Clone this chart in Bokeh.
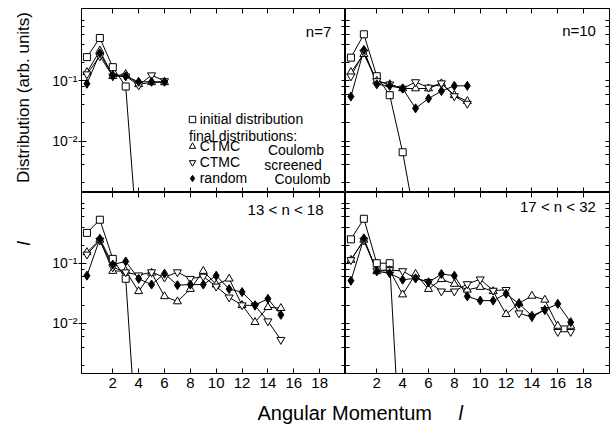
from bokeh.plotting import figure
from bokeh.layouts import row, column
from bokeh.models import (Range1d, LogAxis, LinearAxis, FixedTicker, Legend,
                          LegendItem, Label)
from bokeh.embed import file_html
from bokeh.resources import INLINE

FONT = "Liberation Sans"

# ---------------- data ----------------
# n = 7
n7_l_init = [0, 1, 2, 3, 4]
n7_init = [0.25, 0.52, 0.17, 0.081, 1.15e-4]
n7_l = [0, 1, 2, 3, 4, 5, 6]
n7_coul = [0.14, 0.32, 0.12, 0.13, 0.088, 0.095, 0.095]
n7_scr = [0.13, 0.26, 0.12, 0.12, 0.085, 0.125, 0.10]
n7_rand = [0.09, 0.29, 0.125, 0.12, 0.097, 0.097, 0.097]

# n = 10
n10_l_init = [0, 1, 2, 3, 4, 5]
n10_init = [0.245, 0.60, 0.12, 0.058, 0.0065, 4.3e-4]
n10_l = [0, 1, 2, 3, 4, 5, 6, 7, 8, 9]
n10_coul = [0.14, 0.28, 0.10, 0.088, 0.075, 0.075, 0.075, 0.091, 0.058, 0.046]
n10_scr = [0.12, 0.30, 0.10, 0.088, 0.075, 0.096, 0.078, 0.092, 0.056, 0.042]
n10_rand = [0.055, 0.33, 0.088, 0.083, 0.075, 0.035, 0.051, 0.068, 0.083, 0.083]

# 13 < n < 18
n13_l_init = [0, 1, 2, 3, 4]
n13_init = [0.32, 0.53, 0.118, 0.055, 3.3e-5]
n13_l = [0, 1, 2, 3, 4, 5, 6, 7, 8, 9, 10, 11, 12, 13, 14, 15]
n13_coul = [0.152, 0.245, 0.074, 0.074, 0.034, 0.069, 0.028, 0.023, 0.037,
            0.074, 0.044, 0.055, 0.020, 0.0104, 0.0185, 0.0178]
n13_scr = [0.14, 0.24, 0.086, 0.071, 0.063, 0.071, 0.058, 0.071, 0.055,
           0.060, 0.041, 0.027, 0.020, 0.0197, 0.0108, 0.0053]
n13_rand = [0.062, 0.255, 0.095, 0.107, 0.055, 0.044, 0.067, 0.043, 0.044,
            0.044, 0.062, 0.037, 0.033, 0.020, 0.0255, 0.0138]

# 17 < n < 32
n17_l_init = [0, 1, 2, 3, 4]
n17_init = [0.25, 0.55, 0.10, 0.10, 1.5e-5]
n17_l = [0, 1, 2, 3, 4, 5, 6, 7, 8, 9, 10, 11, 12, 13, 14, 15, 16, 17]
n17_coul = [0.113, 0.245, 0.073, 0.076, 0.030, 0.066, 0.037, 0.054, 0.045,
            0.036, 0.040, 0.034, 0.0141, 0.0215, 0.0285, 0.0245, 0.0090, 0.0090]
n17_scr = [0.113, 0.24, 0.076, 0.077, 0.074, 0.056, 0.049, 0.034, 0.034,
           0.045, 0.054, 0.035, 0.036, 0.0147, 0.0126, 0.0167, 0.0072, 0.0072]
n17_rand = [0.051, 0.26, 0.073, 0.068, 0.053, 0.056, 0.048, 0.066, 0.062,
            0.028, 0.0238, 0.0238, 0.031, 0.021, 0.0133, 0.0167, 0.021, 0.0104]

x_ticks = [2, 4, 6, 8, 10, 12, 14, 16, 18]
x_tick_labels = ["2", "4", "6", "8", "10", "12", "14", "16", "18"]
y_major = [1e-2, 1e-1]
y_major_labels = ["10⁻²", "10⁻¹"]
y_minor = [k * d for d in (1e-3, 1e-2, 1e-1, 1.0) for k in (1, 2, 4, 6, 8)]

X_RANGE = (-0.42, 20.0)
TOP_Y = (10 ** -2.858, 10 ** 0.208)
BOT_Y = (10 ** -2.838, 10 ** 0.178)


def panel(width, height, yr, bl, br, bt, bb):
    p = figure(width=width, height=height,
               x_range=Range1d(*X_RANGE), y_range=Range1d(*yr),
               y_axis_type="log", output_backend="svg", toolbar_location=None,
               x_axis_location=None, y_axis_location=None,
               min_border_left=bl, min_border_right=br,
               min_border_top=bt, min_border_bottom=bb)
    p.xgrid.visible = False
    p.ygrid.visible = False
    p.outline_line_color = "black"
    p.outline_line_width = 1
    p.background_fill_color = "white"
    p.border_fill_color = "white"
    return p


def x_axis(p, side, labels):
    if labels:
        ax = LinearAxis(ticker=FixedTicker(ticks=x_ticks),
                        major_label_overrides=dict(zip(x_ticks, x_tick_labels)),
                        major_tick_in=5, major_tick_out=0,
                        minor_tick_line_color=None,
                        major_label_text_font=FONT,
                        major_label_text_font_size="15px",
                        major_label_text_color="black",
                        major_label_standoff=4)
    else:
        # ticks only (drawn as unlabeled minor ticks)
        ax = LinearAxis(ticker=FixedTicker(ticks=[], minor_ticks=x_ticks),
                        minor_tick_in=5, minor_tick_out=0,
                        major_tick_line_color=None)
    ax.axis_line_color = "black"
    ax.major_tick_line_color = "black" if labels else None
    ax.minor_tick_line_color = None if labels else "black"
    p.add_layout(ax, side)


def y_axis(p, side, labels):
    if labels:
        ax = LogAxis(ticker=FixedTicker(ticks=y_major, minor_ticks=y_minor),
                     major_label_overrides=dict(zip(y_major, y_major_labels)),
                     major_tick_in=5, major_tick_out=3,
                     minor_tick_in=3, minor_tick_out=0,
                     major_label_text_font=FONT,
                     major_label_text_font_size="14px",
                     major_label_text_color="black",
                     major_label_standoff=1)
    else:
        ax = LogAxis(ticker=FixedTicker(ticks=[], minor_ticks=y_minor),
                     minor_tick_in=4, minor_tick_out=0)
    ax.axis_line_color = "black"
    ax.major_tick_line_color = "black"
    ax.minor_tick_line_color = "black"
    p.add_layout(ax, side)


def draw(p, l_init, init, l, coul, scr, rand):
    for xs, ys in ((l_init, init), (l, coul), (l, scr), (l, rand)):
        p.line(xs, ys, line_color="black", line_width=1)
    r_i = p.scatter(l_init, init, marker="square", size=7,
                    fill_color="white", line_color="black", line_width=1)
    r_c = p.scatter(l, coul, marker="triangle", size=8,
                    fill_color="white", line_color="black", line_width=1)
    r_s = p.scatter(l, scr, marker="inverted_triangle", size=8,
                    fill_color="white", line_color="black", line_width=1)
    r_r = p.scatter(l, rand, marker="diamond", size=9,
                    fill_color="black", line_color="black")
    return r_i, r_c, r_s, r_r


def tag(p, x, y, text, size="15px", align="right", style="normal"):
    p.add_layout(Label(x=x, y=y, text=text, text_align=align,
                       text_baseline="middle", text_font=FONT,
                       text_font_size=size, text_color="black",
                       text_font_style=style))


# ---------------- panels ----------------
tl = panel(305, 192, TOP_Y, 41, 0, 8, 0)
tr = panel(266, 192, TOP_Y, 0, 2, 8, 0)
bl = panel(305, 205, BOT_Y, 41, 0, 0, 24)
br = panel(266, 205, BOT_Y, 0, 2, 0, 24)

x_axis(tl, "above", False); x_axis(tl, "below", False)
x_axis(tr, "above", False); x_axis(tr, "below", False)
x_axis(bl, "above", False); x_axis(bl, "below", True)
x_axis(br, "above", False); x_axis(br, "below", True)
y_axis(tl, "left", True); y_axis(tl, "right", False)
y_axis(bl, "left", True); y_axis(bl, "right", False)
y_axis(tr, "left", False); y_axis(tr, "right", False)
y_axis(br, "left", False); y_axis(br, "right", False)

r_i, r_c, r_s, r_r = draw(tl, n7_l_init, n7_init, n7_l, n7_coul, n7_scr, n7_rand)
draw(tr, n10_l_init, n10_init, n10_l, n10_coul, n10_scr, n10_rand)
draw(bl, n13_l_init, n13_init, n13_l, n13_coul, n13_scr, n13_rand)
draw(br, n17_l_init, n17_init, n17_l, n17_coul, n17_scr, n17_rand)

tag(tl, 18.9, 0.67, "n=7")
tag(tr, 18.95, 0.70, "n=10")
tag(bl, 18.3, 0.785, "13 < n < 18")
tag(br, 18.95, 0.867, "17 < n < 32")

# legend
leg_kw = dict(padding=0, margin=0, border_line_color=None,
              background_fill_alpha=0, label_text_font=FONT,
              label_text_font_size="14px", label_text_color="black",
              glyph_width=16, glyph_height=16, label_height=14,
              label_standoff=0, spacing=-2)
leg1 = Legend(items=[LegendItem(label="initial distribution", renderers=[r_i])],
              location=(102.7, 65), **leg_kw)
leg2 = Legend(items=[LegendItem(label="CTMC", renderers=[r_c]),
                     LegendItem(label="CTMC", renderers=[r_s]),
                     LegendItem(label="random", renderers=[r_r])],
              location=(102.7, 6), **leg_kw)
tl.add_layout(leg1)
tl.add_layout(leg2)
tag(tl, 7.9, 0.0119, "final distributions:", size="14px", align="left")
tag(tl, 14.0, 0.00695, "Coulomb", size="14px", align="left")
tag(tl, 13.72, 0.00406, "screened", size="14px", align="left")
tag(tl, 14.5, 0.00237, "Coulomb", size="14px", align="left")


# ---------------- global axis titles ----------------
def blank(w, h):
    f = figure(width=w, height=h, x_range=Range1d(0, w), y_range=Range1d(0, h),
               output_backend="svg", toolbar_location=None,
               x_axis_location=None, y_axis_location=None,
               min_border=0, outline_line_color=None)
    f.xgrid.visible = False
    f.ygrid.visible = False
    f.border_fill_color = "white"
    f.background_fill_color = "white"
    return f


ytitle = blank(40, 426)
ytitle.add_layout(Label(x=23, y=329, text="Distribution (arb. units)", angle=90,
                        angle_units="deg", text_align="center",
                        text_baseline="middle", text_font=FONT,
                        text_font_size="17px", text_color="black"))
ytitle.add_layout(Label(x=23, y=183, text="l", angle=90, angle_units="deg",
                        text_align="center", text_baseline="middle",
                        text_font=FONT, text_font_size="18px",
                        text_font_style="italic", text_color="black"))

xtitle = blank(571, 29)
xtitle.add_layout(Label(x=217, y=14, text="Angular Momentum", text_align="left",
                        text_baseline="middle", text_font=FONT,
                        text_font_size="20px", text_color="black"))
xtitle.add_layout(Label(x=418, y=14, text="l", text_align="left",
                        text_baseline="middle", text_font=FONT,
                        text_font_size="20px", text_font_style="italic",
                        text_color="black"))

layout = row(ytitle, column(row(tl, tr), row(bl, br), xtitle))

with open("out.html", "w") as fh:
    fh.write(file_html(layout, INLINE))
